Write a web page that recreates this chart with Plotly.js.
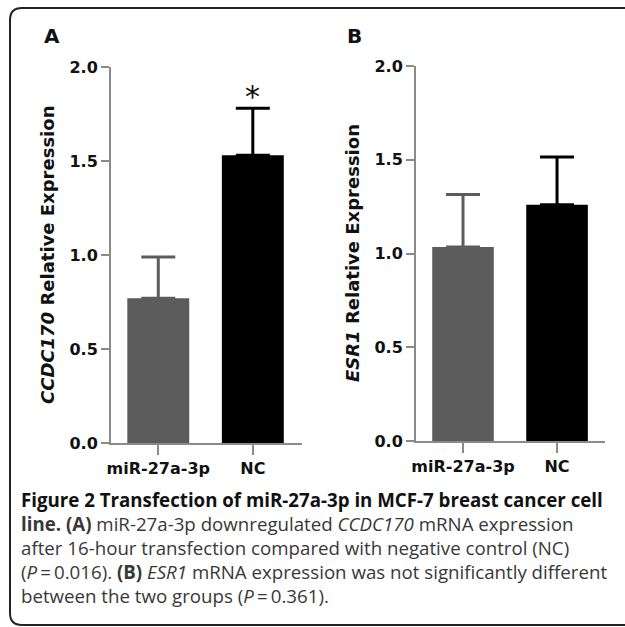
<!DOCTYPE html>
<html>
<head>
<meta charset="utf-8">
<script src="https://cdn.plot.ly/plotly-3.0.1.min.js"></script>
<style>html,body{margin:0;padding:0;background:#fff;}#chart{width:625px;height:627px;}</style>
</head>
<body>
<div id="chart"></div>
<script>
// ---- data ----
const categories = ['miR-27a-3p', 'NC'];
const ccdc170Mean = [0.77, 1.53];
const ccdc170Err = [0.22, 0.25];
const esr1Mean = [1.035, 1.26];
const esr1Err = [0.28, 0.255];
const yTicks = [0, 0.5, 1.0, 1.5, 2.0];
const barColors = ['#5c5c5c', '#000000'];
const captionLines = [
  '<b>Figure 2 Transfection of miR-27a-3p in MCF-7 breast cancer cell</b>',
  '<b>line. (A)</b> miR-27a-3p downregulated <i>CCDC170</i> mRNA expression',
  'after 16-hour transfection compared with negative control (NC)',
  '(<i>P</i>\u2009=\u20090.016). <b>(B)</b> <i>ESR1</i> mRNA expression was not significantly different',
  'between the two groups (<i>P</i>\u2009=\u20090.361).'
];

const W = 625, H = 627;
const px = v => v / W;
const py = v => 1 - v / H;

function barTrace(i, means, errs, xa, ya) {
  return {
    type: 'bar',
    x: [categories[i]],
    y: [means[i]],
    width: 0.655,
    marker: {color: barColors[i], line: {width: 0}},
    error_y: {type: 'data', symmetric: false, array: [errs[i]], arrayminus: [0],
              color: barColors[i], thickness: 3, width: 17},
    xaxis: xa, yaxis: ya, showlegend: false, hoverinfo: 'skip'
  };
}

const data = [
  barTrace(0, ccdc170Mean, ccdc170Err, 'x', 'y'),
  barTrace(1, ccdc170Mean, ccdc170Err, 'x', 'y'),
  barTrace(0, esr1Mean, esr1Err, 'x2', 'y2'),
  barTrace(1, esr1Mean, esr1Err, 'x2', 'y2')
];

const tickFont = {family: 'DejaVu Sans', size: 16, color: '#111', weight: 'bold'};
const axisCommon = {
  showline: true, linecolor: '#8a8a8a', linewidth: 2,
  ticks: 'outside', tickcolor: '#8a8a8a', tickwidth: 2,
  showgrid: false, zeroline: false, tickfont: tickFont, fixedrange: true
};

const annFont = (size, weight, color) => ({family: 'DejaVu Sans', size: size, weight: weight, color: color || '#111'});
const capFont = {family: 'Open Sans', size: 18.7, color: '#383838'};

const annotations = [
  {text: 'A', xref: 'paper', yref: 'paper', x: px(52), y: py(36), xanchor: 'center', yanchor: 'middle', showarrow: false, font: annFont(20, 'bold')},
  {text: 'B', xref: 'paper', yref: 'paper', x: px(354), y: py(36), xanchor: 'center', yanchor: 'middle', showarrow: false, font: annFont(20, 'bold')},
  {text: '<i>CCDC170</i> Relative Expression', xref: 'paper', yref: 'paper', x: px(47), y: py(255), textangle: -90, xanchor: 'center', yanchor: 'middle', showarrow: false, font: annFont(18, 'bold')},
  {text: '<i>ESR1</i> Relative Expression', xref: 'paper', yref: 'paper', x: px(353), y: py(253), textangle: -90, xanchor: 'center', yanchor: 'middle', showarrow: false, font: annFont(18, 'bold')},
  {text: '*', xref: 'x', yref: 'y', x: categories[1], y: ccdc170Mean[1] + ccdc170Err[1], yshift: 12, xanchor: 'center', yanchor: 'middle', showarrow: false, font: {family: 'DejaVu Sans', size: 30, color: '#111'}}
];
const lineY = [499, 523, 547, 571, 595];
captionLines.forEach((t, i) => {
  annotations.push({text: t, xref: 'paper', yref: 'paper', x: px(19), y: py(lineY[i]), xanchor: 'left', yanchor: 'middle', align: 'left', showarrow: false, font: i === 0 ? Object.assign({}, capFont, {color: '#111'}) : capFont});
});

const layout = {
  width: W, height: H,
  margin: {l: 0, r: 0, t: 0, b: 0},
  paper_bgcolor: '#fff', plot_bgcolor: 'rgba(0,0,0,0)',
  barmode: 'overlay',
  showlegend: false,
  xaxis: Object.assign({}, axisCommon, {domain: [px(111), px(302)], range: [-0.5, 1.52], type: 'category', ticklen: 10, anchor: 'y'}),
  yaxis: Object.assign({}, axisCommon, {domain: [py(443), py(67)], range: [0, 2], tickvals: yTicks, tickformat: '.1f', ticklen: 8, anchor: 'x'}),
  xaxis2: Object.assign({}, axisCommon, {domain: [px(416), px(605)], range: [-0.5, 1.51], type: 'category', ticklen: 10, anchor: 'y2'}),
  yaxis2: Object.assign({}, axisCommon, {domain: [py(441), py(66)], range: [0, 2], tickvals: yTicks, tickformat: '.1f', ticklen: 8, anchor: 'x2'}),
  annotations: annotations,
  shapes: [{
    type: 'path', xref: 'paper', yref: 'paper', layer: 'above',
    path: 'M 1.02,' + py(8) + ' L ' + px(22) + ',' + py(8) + ' Q ' + px(10) + ',' + py(8) + ' ' + px(10) + ',' + py(20) +
          ' L ' + px(10) + ',' + py(613) + ' Q ' + px(10) + ',' + py(625) + ' ' + px(22) + ',' + py(625) + ' L 1.02,' + py(625),
    line: {color: '#222', width: 2}
  }]
};

Plotly.newPlot('chart', data, layout, {staticPlot: true, displayModeBar: false});
</script>
</body>
</html>
